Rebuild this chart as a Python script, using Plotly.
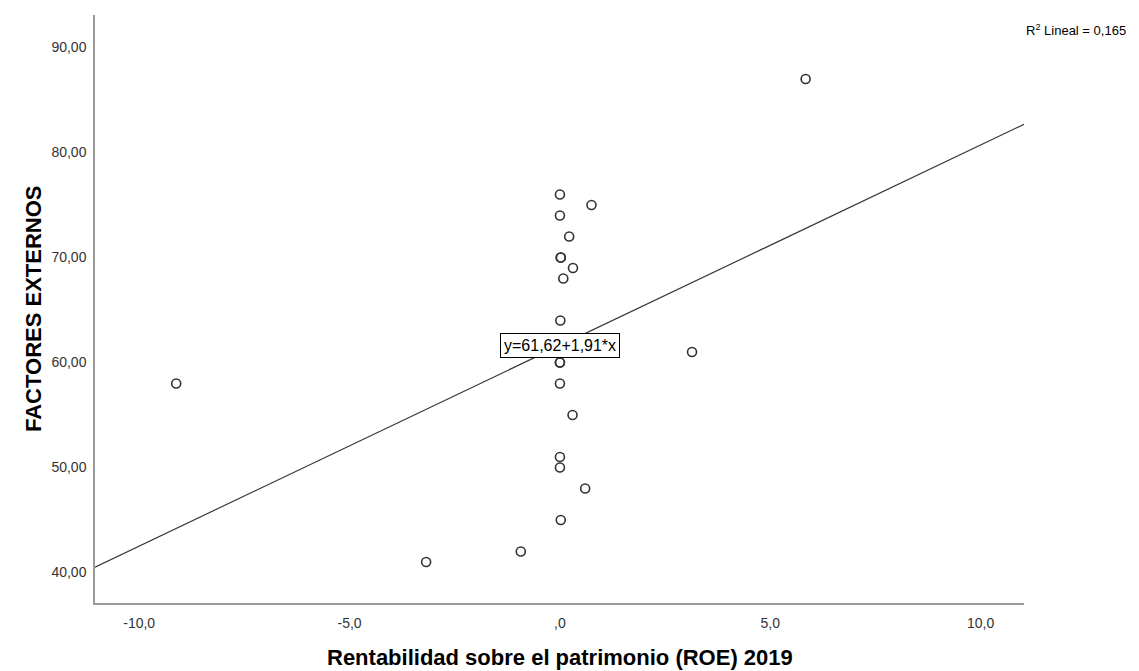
import numpy as np
import plotly.graph_objects as go

# ROE 2019 vs FACTORES EXTERNOS
roe = [-9.12, -3.18, -0.93, 5.84, 3.14,
       0.0, 0.75, 0.0, 0.22, 0.02, 0.02, 0.31, 0.08, 0.01,
       0.0, 0.0, 0.0, 0.30, 0.0, 0.0, 0.60, 0.02]
factores = [58, 41, 42, 87, 61,
            76, 75, 74, 72, 70, 70, 69, 68, 64,
            60, 60, 58, 55, 51, 50, 48, 45]

intercept = 61.62
slope = 1.91
r2 = 0.165

x_ticks = [-10, -5, 0, 5, 10]
x_ticktext = ["-10,0", "-5,0", ",0", "5,0", "10,0"]
y_ticks = [40, 50, 60, 70, 80, 90]
y_ticktext = ["40,00", "50,00", "60,00", "70,00", "80,00", "90,00"]

x_range = [-11.05, 11.03]
y_range = [37.1, 93.1]

FONT = "Liberation Sans, Arial"

fig = go.Figure()

xl = np.array(x_range)
fig.add_trace(go.Scatter(
    x=xl, y=intercept + slope * xl, mode="lines",
    line=dict(color="#3a3a3a", width=1.2), showlegend=False, hoverinfo="skip"
))

fig.add_trace(go.Scatter(
    x=roe, y=factores, mode="markers",
    marker=dict(symbol="circle-open", size=9, color="#333333",
                line=dict(width=1.6, color="#333333")),
    showlegend=False
))

# equation label on the fit line
fig.add_annotation(
    x=0, y=intercept, xref="x", yref="y",
    text=f"y={intercept:.2f}+{slope:.2f}*x".replace(".", ","),
    showarrow=False, bgcolor="white", bordercolor="black", borderwidth=1,
    borderpad=3, font=dict(family=FONT, size=16, color="black")
)

# R2 label
fig.add_annotation(
    x=1.0, y=1.0, xref="paper", yref="paper", xanchor="left", yanchor="middle",
    xshift=0, yshift=-15,
    text=f"R<sup>2</sup> Lineal = {r2:.3f}".replace(".", ","),
    showarrow=False, font=dict(family=FONT, size=13, color="black")
)

# axis titles
fig.add_annotation(
    x=0.5, y=0, xref="paper", yref="paper", xanchor="center", yanchor="middle",
    yshift=-54, showarrow=False,
    text="<b>Rentabilidad sobre el patrimonio (ROE) 2019</b>",
    font=dict(family=FONT, size=22, color="black")
)
fig.add_annotation(
    x=0, y=0.5, xref="paper", yref="paper", xanchor="center", yanchor="middle",
    xshift=-62, textangle=-90, showarrow=False,
    text="<b>FACTORES EXTERNOS</b>",
    font=dict(family=FONT, size=22, color="black")
)

# page body adds an 8px offset, so the figure is a bit smaller than the window
fig.update_layout(
    width=1131, height=663,
    margin=dict(l=87, r=115, t=7, b=68),
    paper_bgcolor="white", plot_bgcolor="white",
    font=dict(family=FONT, size=14, color="#333333"),
)

fig.update_xaxes(
    range=x_range, tickvals=x_ticks, ticktext=x_ticktext,
    showgrid=False, zeroline=False, showline=True, linecolor="#9a9a9a", linewidth=1.5,
    ticks="", ticklabelstandoff=6, automargin=False,
    tickfont=dict(family=FONT, size=14, color="#333333")
)
fig.update_yaxes(
    range=y_range, tickvals=y_ticks, ticktext=y_ticktext,
    showgrid=False, zeroline=False, showline=True, linecolor="#9a9a9a", linewidth=1.5,
    ticks="", ticklabelstandoff=4, automargin=False,
    tickfont=dict(family=FONT, size=14, color="#333333")
)

fig.write_html("out.html")
